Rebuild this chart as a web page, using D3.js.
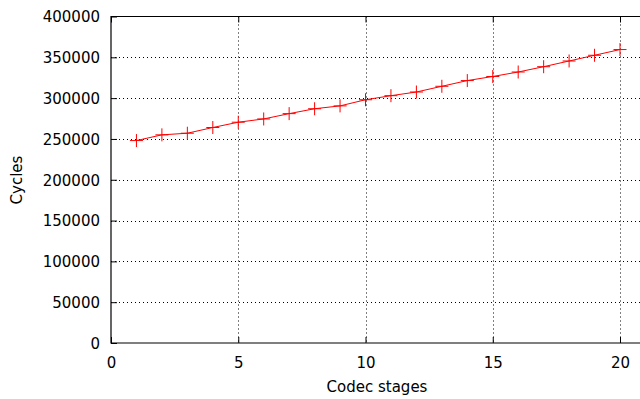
<!DOCTYPE html>
<html>
<head>
<meta charset="utf-8">
<script src="https://cdn.jsdelivr.net/npm/d3@7"></script>
<style>
  body { margin: 0; background: #fff; }
  svg { display: block; font-family: "DejaVu Sans", sans-serif; }
</style>
</head>
<body>
<div id="chart"></div>
<script>
// codec stages vs cycles
const stages = [1, 2, 3, 4, 5, 6, 7, 8, 9, 10, 11, 12, 13, 14, 15, 16, 17, 18, 19, 20];
const cycles = [248000, 255000, 257000, 264000, 270500, 274500, 281000, 287000, 290500, 298000,
                303000, 307500, 314500, 321500, 326500, 332000, 338500, 345500, 352500, 359500];
const xTicks = [0, 5, 10, 15, 20];
const yTicks = [0, 50000, 100000, 150000, 200000, 250000, 300000, 350000, 400000];

const width = 640, height = 399;
const plotLeft = 111, plotTop = 16.5, plotBottom = 343;
const fontSize = 15;

const svg = d3.select("#chart").append("svg")
  .attr("width", width)
  .attr("height", height);

const x = d3.scaleLinear().domain([0, 21]).range([plotLeft, plotLeft + 21 * 25.45]);
const y = d3.scaleLinear().domain([0, 400000]).range([plotBottom, plotTop]);

// grid
svg.append("g")
  .selectAll("line")
  .data(yTicks.slice(1, -1))
  .enter().append("line")
  .attr("x1", plotLeft).attr("x2", width)
  .attr("y1", d => Math.round(y(d)) + 0.5).attr("y2", d => Math.round(y(d)) + 0.5)
  .attr("stroke", "#000").attr("stroke-width", 1)
  .attr("stroke-dasharray", "1,3");

svg.append("g")
  .selectAll("line")
  .data(xTicks.slice(1))
  .enter().append("line")
  .attr("x1", d => Math.round(x(d)) + 0.5).attr("x2", d => Math.round(x(d)) + 0.5)
  .attr("y1", plotTop).attr("y2", plotBottom)
  .attr("stroke", "#000").attr("stroke-width", 1)
  .attr("stroke-dasharray", "1,3");

// axes (ticks inward, mirrored on top)
const xAxis = d3.axisBottom(x).tickValues(xTicks).tickSize(-6).tickPadding(14);
const gx = svg.append("g").attr("transform", `translate(0,${plotBottom})`).call(xAxis);
const yAxis = d3.axisLeft(y).tickValues(yTicks).tickFormat(d3.format("d")).tickSize(-6).tickPadding(11);
const gy = svg.append("g").attr("transform", `translate(${plotLeft},0)`).call(yAxis);
const xTop = d3.axisTop(x).tickValues(xTicks).tickSize(-6).tickFormat("");
const gt = svg.append("g").attr("transform", `translate(0,${plotTop})`).call(xTop);

[gx, gy, gt].forEach(g => {
  g.select(".domain").remove();
  g.selectAll("text").attr("font-size", fontSize).attr("font-family", "DejaVu Sans").attr("fill", "#000");
});
gy.selectAll("text").attr("dy", "0.36em");

// frame
svg.append("path")
  .attr("d", `M${width},${plotTop}H${plotLeft}V${plotBottom}H${width}`)
  .attr("fill", "none").attr("stroke", "#000").attr("stroke-width", 1.2);

// series line
const line = d3.line().x((d, i) => x(stages[i])).y(d => y(d));
svg.append("path")
  .datum(cycles)
  .attr("d", line)
  .attr("fill", "none")
  .attr("stroke", "#ff0000")
  .attr("stroke-width", 1);

// plus markers
const s = 6.5;
svg.append("g")
  .selectAll("path")
  .data(cycles)
  .enter().append("path")
  .attr("d", (d, i) => {
    const cx = x(stages[i]), cy = y(d);
    return `M${cx - s},${cy}H${cx + s}M${cx},${cy - s}V${cy + s}`;
  })
  .attr("stroke", "#ff0000").attr("stroke-width", 1);

// labels
svg.append("text")
  .attr("x", 377).attr("y", 392)
  .attr("text-anchor", "middle")
  .attr("font-size", fontSize)
  .text("Codec stages");

svg.append("text")
  .attr("transform", "translate(22,180) rotate(-90)")
  .attr("text-anchor", "middle")
  .attr("font-size", fontSize)
  .text("Cycles");
</script>
</body>
</html>
